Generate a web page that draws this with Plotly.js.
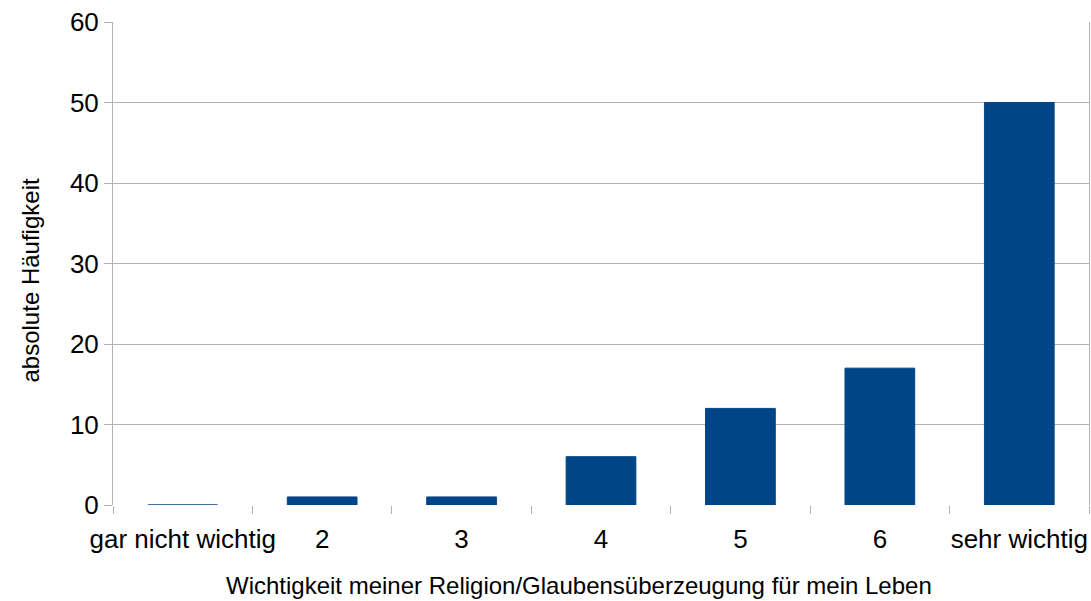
<!DOCTYPE html>
<html><head><meta charset="utf-8">
<script src="https://cdn.plot.ly/plotly-3.0.1.min.js"></script>
<style>html,body{margin:0;padding:0;background:#fff}#chart{width:1091px;height:601px}</style>
</head><body><div id="chart"></div>
<script>
const categories = ["gar nicht wichtig", "2", "3", "4", "5", "6", "sehr wichtig"];
const counts = [0, 1, 1, 6, 12, 17, 50];
const yTicks = [0, 10, 20, 30, 40, 50, 60];
const xTitle = "Wichtigkeit meiner Religion/Glaubensüberzeugung für mein Leben";
const yTitle = "absolute Häufigkeit";

const font = "Liberation Sans, Arial, sans-serif";
Plotly.newPlot("chart", [{
  type: "bar",
  x: categories,
  y: counts,
  width: 0.5,
  marker: {color: "#004586", line: {color: "#004586", width: 1}},
  hoverinfo: "x+y"
}], {
  width: 1091, height: 601,
  margin: {l: 113, r: 2, t: 22, b: 96},
  paper_bgcolor: "#fff", plot_bgcolor: "#fff",
  showlegend: false,
  font: {family: font, color: "#000"},
  xaxis: {
    type: "category",
    tickson: "boundaries",
    tickangle: 0,
    ticks: "outside", ticklen: 8, tickcolor: "#b3b3b3", tickwidth: 1,
    ticklabelstandoff: 16,
    showgrid: false, showline: false, zeroline: false,
    tickfont: {size: 26, family: font, color: "#000"},
    automargin: false
  },
  yaxis: {
    range: [0, 60],
    tickvals: yTicks,
    ticks: "outside", ticklen: 8, tickcolor: "#b3b3b3", tickwidth: 1,
    showgrid: true, gridcolor: "#b3b3b3", gridwidth: 1,
    showline: true, linecolor: "#b3b3b3", linewidth: 1, mirror: true,
    zeroline: false,
    tickfont: {size: 26, family: font, color: "#000"},
    automargin: false
  },
  annotations: [
    {text: xTitle, xref: "paper", yref: "paper", x: (579 - 113) / 976, y: (505 - 585) / 483,
     xanchor: "center", yanchor: "middle", showarrow: false,
     font: {size: 24, family: font, color: "#000"}},
    {text: yTitle, xref: "paper", yref: "paper", x: (30 - 113) / 976, y: (505 - 280.5) / 483,
     xanchor: "center", yanchor: "middle", textangle: -90, showarrow: false,
     font: {size: 24, family: font, color: "#000"}}
  ],
  bargap: 0.5
}, {displayModeBar: false, staticPlot: true});
</script></body></html>
